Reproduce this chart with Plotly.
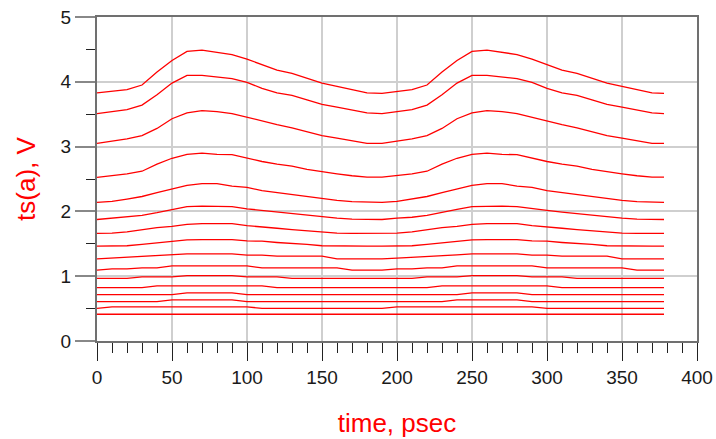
import plotly.graph_objects as go

# time axis (psec)
time_ps = [0, 10, 20, 30, 40, 50, 60, 70, 80, 90, 100, 110, 120, 130, 140, 150, 160, 170, 180, 190,
           200, 210, 220, 230, 240, 250, 260, 270, 280, 290, 300, 310, 320, 330, 340, 350, 360, 370, 378]

ts_1 = [3.83, 3.85, 3.88, 3.95, 4.15, 4.33, 4.47, 4.49, 4.46, 4.42, 4.35, 4.27, 4.18, 4.13, 4.06, 3.98, 3.93, 3.88, 3.83, 3.82,
        3.85, 3.88, 3.95, 4.15, 4.33, 4.47, 4.49, 4.46, 4.42, 4.35, 4.27, 4.18, 4.13, 4.06, 3.98, 3.93, 3.88, 3.83, 3.82]
ts_2 = [3.51, 3.54, 3.57, 3.64, 3.80, 3.98, 4.10, 4.10, 4.07, 4.05, 3.99, 3.90, 3.83, 3.79, 3.72, 3.65, 3.61, 3.56, 3.52, 3.51,
        3.54, 3.57, 3.64, 3.80, 3.98, 4.10, 4.10, 4.07, 4.05, 3.99, 3.90, 3.83, 3.79, 3.72, 3.65, 3.61, 3.56, 3.52, 3.51]
ts_3 = [3.05, 3.08, 3.12, 3.17, 3.28, 3.43, 3.52, 3.555, 3.54, 3.51, 3.45, 3.39, 3.34, 3.29, 3.23, 3.17, 3.13, 3.09, 3.05, 3.05,
        3.08, 3.12, 3.17, 3.28, 3.43, 3.52, 3.555, 3.54, 3.51, 3.45, 3.39, 3.34, 3.29, 3.23, 3.17, 3.13, 3.09, 3.05, 3.05]
ts_4 = [2.525, 2.55, 2.58, 2.62, 2.73, 2.82, 2.88, 2.90, 2.88, 2.875, 2.82, 2.77, 2.73, 2.70, 2.65, 2.61, 2.58, 2.55, 2.53, 2.53,
        2.55, 2.58, 2.62, 2.73, 2.82, 2.88, 2.90, 2.88, 2.875, 2.82, 2.77, 2.73, 2.70, 2.65, 2.61, 2.58, 2.55, 2.53, 2.53]
ts_5 = [2.14, 2.155, 2.19, 2.23, 2.29, 2.345, 2.40, 2.43, 2.43, 2.39, 2.37, 2.32, 2.29, 2.26, 2.22, 2.19, 2.17, 2.15, 2.14, 2.14,
        2.155, 2.19, 2.23, 2.29, 2.345, 2.40, 2.43, 2.43, 2.39, 2.37, 2.32, 2.29, 2.26, 2.22, 2.19, 2.17, 2.15, 2.14, 2.14]
ts_6 = [1.875, 1.895, 1.91, 1.94, 1.98, 2.03, 2.075, 2.08, 2.08, 2.075, 2.04, 2.015, 1.99, 1.965, 1.94, 1.92, 1.895, 1.88, 1.875, 1.875,
        1.895, 1.91, 1.94, 1.98, 2.03, 2.075, 2.08, 2.08, 2.075, 2.04, 2.015, 1.99, 1.965, 1.94, 1.92, 1.895, 1.88, 1.875, 1.875]
ts_7 = [1.66, 1.665, 1.685, 1.72, 1.75, 1.77, 1.80, 1.81, 1.81, 1.81, 1.78, 1.765, 1.74, 1.72, 1.70, 1.685, 1.665, 1.66, 1.66, 1.66,
        1.665, 1.685, 1.72, 1.75, 1.77, 1.80, 1.81, 1.81, 1.81, 1.78, 1.765, 1.74, 1.72, 1.70, 1.685, 1.665, 1.66, 1.66, 1.66]
ts_8 = [1.465, 1.465, 1.47, 1.49, 1.51, 1.53, 1.56, 1.565, 1.565, 1.565, 1.545, 1.54, 1.52, 1.51, 1.49, 1.47, 1.465, 1.465, 1.465, 1.465,
        1.465, 1.47, 1.49, 1.51, 1.53, 1.56, 1.565, 1.565, 1.565, 1.545, 1.54, 1.52, 1.51, 1.49, 1.47, 1.465, 1.465, 1.465, 1.465]
ts_9 = [1.267, 1.28, 1.29, 1.30, 1.31, 1.33, 1.345, 1.345, 1.345, 1.345, 1.325, 1.325, 1.31, 1.31, 1.31, 1.31, 1.267, 1.267, 1.267, 1.267,
        1.28, 1.29, 1.30, 1.31, 1.33, 1.345, 1.345, 1.345, 1.345, 1.325, 1.325, 1.31, 1.31, 1.31, 1.31, 1.267, 1.267, 1.267, 1.267]
ts_10 = [1.093, 1.113, 1.113, 1.128, 1.128, 1.16, 1.16, 1.16, 1.16, 1.16, 1.16, 1.128, 1.128, 1.128, 1.128, 1.128, 1.128, 1.093, 1.093, 1.093,
         1.113, 1.113, 1.128, 1.128, 1.16, 1.16, 1.16, 1.16, 1.16, 1.16, 1.128, 1.128, 1.128, 1.128, 1.128, 1.128, 1.093, 1.093, 1.093]
ts_11 = [0.965, 0.965, 0.965, 0.99, 0.99, 0.99, 1.01, 1.01, 1.01, 1.01, 0.99, 0.99, 0.99, 0.965, 0.965, 0.965, 0.965, 0.965, 0.965, 0.965,
         0.965, 0.965, 0.99, 0.99, 0.99, 1.01, 1.01, 1.01, 1.01, 0.99, 0.99, 0.99, 0.965, 0.965, 0.965, 0.965, 0.965, 0.965, 0.965]
ts_12 = [0.825, 0.825, 0.825, 0.825, 0.85, 0.85, 0.85, 0.85, 0.85, 0.85, 0.85, 0.85, 0.825, 0.825, 0.825, 0.825, 0.825, 0.825, 0.825, 0.825,
         0.825, 0.825, 0.825, 0.85, 0.85, 0.85, 0.85, 0.85, 0.85, 0.85, 0.85, 0.825, 0.825, 0.825, 0.825, 0.825, 0.825, 0.825, 0.825]
ts_13 = [0.717, 0.717, 0.717, 0.717, 0.717, 0.717, 0.742, 0.742, 0.742, 0.742, 0.717, 0.717, 0.717, 0.717, 0.717, 0.717, 0.717, 0.717, 0.717, 0.717,
         0.717, 0.717, 0.717, 0.717, 0.717, 0.742, 0.742, 0.742, 0.742, 0.717, 0.717, 0.717, 0.717, 0.717, 0.717, 0.717, 0.717, 0.717, 0.717]
ts_14 = [0.609, 0.609, 0.609, 0.609, 0.609, 0.634, 0.634, 0.634, 0.634, 0.634, 0.609, 0.609, 0.609, 0.609, 0.609, 0.609, 0.609, 0.609, 0.609, 0.609,
         0.609, 0.609, 0.609, 0.609, 0.634, 0.634, 0.634, 0.634, 0.634, 0.609, 0.609, 0.609, 0.609, 0.609, 0.609, 0.609, 0.609, 0.609, 0.609]
ts_15 = [0.505, 0.526, 0.526, 0.526, 0.526, 0.526, 0.526, 0.526, 0.526, 0.526, 0.526, 0.505, 0.505, 0.505, 0.505, 0.505, 0.505, 0.505, 0.505, 0.505,
         0.526, 0.526, 0.526, 0.526, 0.526, 0.526, 0.526, 0.526, 0.526, 0.526, 0.505, 0.505, 0.505, 0.505, 0.505, 0.505, 0.505, 0.505, 0.505]
ts_16 = [0.413, 0.413, 0.413, 0.413, 0.413, 0.413, 0.413, 0.413, 0.413, 0.413, 0.413, 0.413, 0.413, 0.413, 0.413, 0.413, 0.413, 0.413, 0.413, 0.413,
         0.413, 0.413, 0.413, 0.413, 0.413, 0.413, 0.413, 0.413, 0.413, 0.413, 0.413, 0.413, 0.413, 0.413, 0.413, 0.413, 0.413, 0.413, 0.413]

traces = [ts_1, ts_2, ts_3, ts_4, ts_5, ts_6, ts_7, ts_8, ts_9, ts_10, ts_11, ts_12, ts_13, ts_14, ts_15, ts_16]

x_ticks = [0, 50, 100, 150, 200, 250, 300, 350, 400]
y_ticks = [0, 1, 2, 3, 4, 5]

fig = go.Figure()
for vals in traces:
    fig.add_trace(go.Scatter(x=time_ps, y=vals, mode="lines",
                             line=dict(color="#ff0000", width=1.3),
                             showlegend=False, hoverinfo="skip"))

FONT = "Liberation Sans, Arial, sans-serif"

fig.update_layout(
    width=716, height=439,
    margin=dict(l=97, r=19, t=17, b=98),
    paper_bgcolor="white", plot_bgcolor="white",
    font=dict(family=FONT, size=19, color="#1a1a1a"),
    showlegend=False,
)

fig.update_xaxes(
    automargin=False,
    range=[0, 400], tickmode="array", tickvals=x_ticks,
    showgrid=True, gridcolor="#cfcfcf", gridwidth=1.5,
    zeroline=False,
    showline=True, linecolor="#707070", linewidth=2, mirror=True,
    ticks="outside", ticklen=18, tickwidth=1.3, tickcolor="#222222",
    minor=dict(dtick=10, tick0=0, ticks="outside", ticklen=10, tickwidth=1, tickcolor="#222222", showgrid=False),
    tickfont=dict(family=FONT, size=19, color="#1a1a1a"),
    title=dict(text="time, psec", font=dict(family=FONT, size=26, color="#ff0000"), standoff=27),
)
fig.update_yaxes(
    automargin=False,
    range=[0, 5], tickmode="array", tickvals=y_ticks,
    showgrid=True, gridcolor="#cfcfcf", gridwidth=1.5,
    zeroline=False,
    showline=True, linecolor="#707070", linewidth=2, mirror=True,
    ticks="outside", ticklen=20, tickwidth=1.5, tickcolor="#888888",
    minor=dict(dtick=0.5, tick0=0, ticks="outside", ticklen=9, tickwidth=1, tickcolor="#222222", showgrid=False),
    tickfont=dict(family=FONT, size=19, color="#1a1a1a"),
    title=dict(text="ts(a), V", font=dict(family=FONT, size=26, color="#ff0000"), standoff=18),
)

fig.write_html("out.html", config={"displayModeBar": False},
               post_script="document.body.style.margin='0';document.body.style.overflow='hidden';")
